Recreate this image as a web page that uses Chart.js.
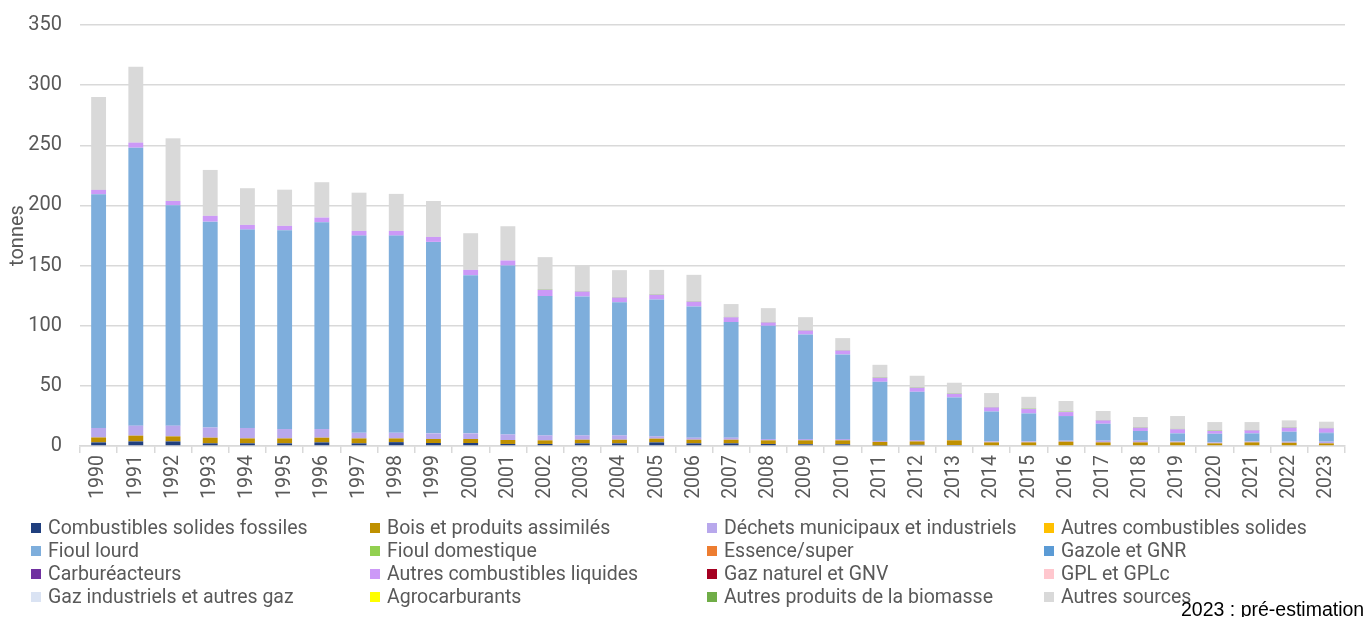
<!DOCTYPE html>
<html>
<head>
<meta charset="utf-8">
<script src="https://cdn.jsdelivr.net/npm/chart.js@4"></script>
<style>
  html, body { margin: 0; padding: 0; background: #fff; }
  #wrap { position: relative; width: 1364px; height: 617px; overflow: hidden; }
  #c { position: absolute; left: 0; top: 0; }
  .lg { position: absolute; font-family: Roboto, "Liberation Sans", sans-serif; font-size: 19.5px; color: #595959; white-space: nowrap; line-height: 22px; }
  .lg i { position: absolute; width: 10px; height: 10px; left: 0; top: 6px; }
  .lg span { position: absolute; left: 17px; top: 0; }
  #note { position: absolute; left: 1181px; top: 598px; font-family: "Liberation Sans", Arial, sans-serif; font-size: 19.5px; color: #000; white-space: nowrap; }
</style>
</head>
<body>
<div id="wrap">
  <canvas id="c" width="1364" height="617"></canvas>
  <div id="legend"></div>
  <div id="note">2023 : pré-estimation</div>
</div>
<script>
const years = ["1990","1991","1992","1993","1994","1995","1996","1997","1998","1999","2000","2001","2002","2003","2004","2005","2006","2007","2008","2009","2010","2011","2012","2013","2014","2015","2016","2017","2018","2019","2020","2021","2022","2023"];
const yTicks = [0, 50, 100, 150, 200, 250, 300, 350];

const seriesNames = [
  "Combustibles solides fossiles", "Bois et produits assimilés", "Déchets municipaux et industriels", "Autres combustibles solides",
  "Fioul lourd", "Fioul domestique", "Essence/super", "Gazole et GNR",
  "Carburéacteurs", "Autres combustibles liquides", "Gaz naturel et GNV", "GPL et GPLc",
  "Gaz industriels et autres gaz", "Agrocarburants", "Autres produits de la biomasse", "Autres sources"
];
const seriesColors = [
  "#203f7e", "#bf9000", "#b8a8ec", "#ffc000",
  "#7eaedc", "#92d050", "#ed7d31", "#5b9bd5",
  "#7030a0", "#cc99f7", "#a50021", "#ffc7ce",
  "#dae3f3", "#ffff00", "#70ad47", "#d9d9d9"
];

const combSolidesFossiles = [3.0,3.8,3.8,2.2,2.2,2.2,3.0,2.2,3.2,2.5,2.5,1.7,1.7,2.2,2.2,3.0,2.2,2.2,1.7,1.4,1.4,0.4,1.0,0.8,0,0,0,0,0,0,0,0,0,0];
const bois = [4.1,4.8,4.2,4.7,4.1,4.1,3.9,4.1,3.1,3.3,3.3,3.3,3.0,3.0,3.0,3.1,3.0,3.0,3.0,3.3,3.3,3.0,2.8,3.9,3.0,3.0,3.6,3.0,3.0,3.0,2.2,3.0,2.7,2.2];
const dechets = [7.9,8.3,8.9,8.5,8.7,7.8,7.2,4.7,4.7,4.7,4.7,4.6,4.1,3.6,3.6,1.9,1.7,1.7,1.1,1.1,1.1,0.8,1.2,0.3,0.8,0.8,0.8,1.4,1.4,0.8,0.8,0.8,0.9,1.4];
const autresCombSolides = new Array(34).fill(0);
const fioulLourd = [194.3,231.1,183.3,171.1,164.9,165.3,171.9,163.9,163.9,159.2,131.5,140.4,115.8,115.5,110.7,113.8,109.1,96.1,94.1,86.9,70.3,49.2,40.1,35.4,24.9,23.3,20.5,14.1,8.1,6.7,7.2,6.7,8.3,7.1];
const fioulDomestique = new Array(34).fill(0);
const essence = new Array(34).fill(0);
const gazole = [0,0,0,0,0,0,0,0,0,0,0,0,0,0,0,0,0,0,0,0,0,0,0,0,0,0,0,0,0,0,0,0,0,0.3];
const carbureacteurs = new Array(34).fill(0);
const autresLiquides = [3.6,4.2,3.5,4.8,3.9,3.6,3.9,3.9,3.9,4.1,4.4,4.2,5.2,4.1,3.9,3.9,4.0,4.0,2.8,3.3,3.3,3.3,3.3,3.0,3.4,3.6,3.3,2.8,2.7,3.4,2.3,2.5,3.3,3.7];
const gazNaturel = new Array(34).fill(0);
const gpl = new Array(34).fill(0);
const gazIndustriels = new Array(34).fill(0);
const agrocarburants = new Array(34).fill(0);
const autresBiomasse = [0,0,0,0,0,0,0,0,0,0,0,0,0.3,0.3,0.3,0.3,0.3,0.3,0.3,0.3,0.3,0.3,0.3,0.3,0.3,0.3,0.3,0.3,0.3,0.3,0.3,0.3,0.3,0.3];
const autresSources = [77.2,63.1,52.1,38.2,30.5,30.1,29.4,31.8,30.8,29.9,30.5,28.5,26.9,21.3,22.5,20.4,22.0,10.7,11.6,10.8,10.0,10.5,9.7,8.9,11.6,9.9,8.9,7.5,8.6,10.7,7.1,6.6,5.8,5.2];

const seriesValues = [
  combSolidesFossiles, bois, dechets, autresCombSolides,
  fioulLourd, fioulDomestique, essence, gazole,
  carbureacteurs, autresLiquides, gazNaturel, gpl,
  gazIndustriels, agrocarburants, autresBiomasse, autresSources
];

const FONT = "Roboto, 'Liberation Sans', sans-serif";
const datasets = seriesNames.map((n, i) => ({
  label: n,
  data: seriesValues[i],
  backgroundColor: seriesColors[i],
  borderWidth: 0,
  categoryPercentage: 0.8,
  barPercentage: 0.5
}));

new Chart(document.getElementById('c'), {
  type: 'bar',
  data: { labels: years, datasets },
  options: {
    responsive: false,
    animation: false,
    layout: { padding: { left: 0, right: 19, top: 25, bottom: 0 } },
    plugins: { legend: { display: false }, tooltip: { enabled: false } },
    scales: {
      x: {
        stacked: true,
        grid: { display: true, offset: true, drawOnChartArea: false, drawTicks: true, tickLength: 7, color: '#d9d9d9', lineWidth: 1.5 },
        border: { display: true, color: '#d9d9d9', width: 1.5 },
        ticks: { color: '#595959', font: { family: FONT, size: 19.5 }, minRotation: 90, maxRotation: 90, autoSkip: false, padding: 2 },
        afterFit: (s) => { s.height = 617 - 446; s.paddingLeft = 0; s.paddingRight = 0; }
      },
      y: {
        stacked: true,
        min: 0, max: 350,
        afterBuildTicks: (s) => { s.ticks = yTicks.map(v => ({ value: v })); },
        grid: { color: '#d9d9d9', lineWidth: 1.5, drawTicks: false },
        border: { display: false },
        ticks: { color: '#595959', font: { family: FONT, size: 20 }, padding: 18 },
        title: { display: true, text: 'tonnes', color: '#595959', font: { family: FONT, size: 20 }, padding: { top: 6, bottom: 0 } },
        afterFit: (s) => { s.width = 80; s.paddingTop = 0; s.paddingBottom = 0; }
      }
    }
  }
});

// HTML legend built from the series arrays
const colX = [31, 370, 707, 1044];
const rowY = [517, 540, 563, 586];
const lg = document.getElementById('legend');
seriesNames.forEach((n, i) => {
  const d = document.createElement('div');
  d.className = 'lg';
  d.style.left = colX[i % 4] + 'px';
  d.style.top = rowY[Math.floor(i / 4)] + 'px';
  d.innerHTML = '<i style="background:' + seriesColors[i] + '"></i><span></span>';
  d.querySelector('span').textContent = n;
  lg.appendChild(d);
});
</script>
</body>
</html>
